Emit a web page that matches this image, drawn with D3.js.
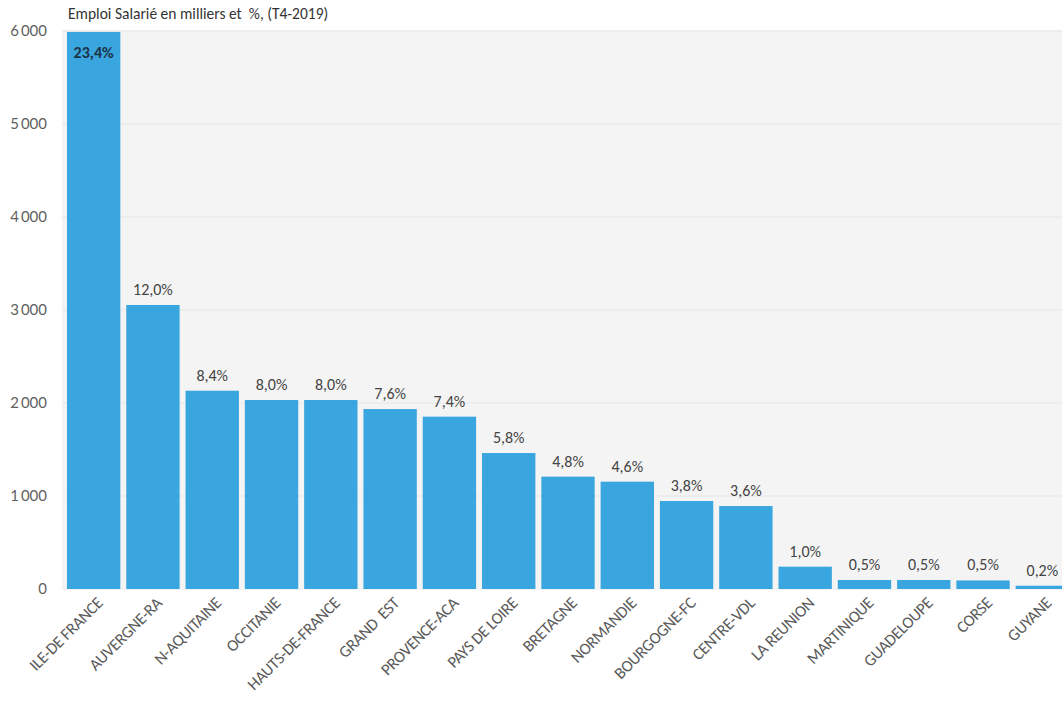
<!DOCTYPE html>
<html>
<head>
<meta charset="utf-8">
<script src="https://cdn.jsdelivr.net/npm/d3@7"></script>
<style>
  body { margin: 0; background: #fff; }
  svg text { font-family: Carlito, Lato, sans-serif; }
</style>
</head>
<body>
<script>
// regions, salaried employment (thousands) and share of total
const regions = ['ILE-DE FRANCE', 'AUVERGNE-RA', 'N-AQUITAINE', 'OCCITANIE', 'HAUTS-DE-FRANCE',
  'GRAND  EST', 'PROVENCE-ACA', 'PAYS DE LOIRE', 'BRETAGNE', 'NORMANDIE', 'BOURGOGNE-FC',
  'CENTRE-VDL', 'LA REUNION', 'MARTINIQUE', 'GUADELOUPE', 'CORSE', 'GUYANE'];
const emploi = [5990, 3054, 2132, 2032, 2032, 1935, 1853, 1462, 1208, 1154, 946, 892, 240, 97, 97, 92, 35];
const parts = ['23,4%', '12,0%', '8,4%', '8,0%', '8,0%', '7,6%', '7,4%', '5,8%', '4,8%', '4,6%',
  '3,8%', '3,6%', '1,0%', '0,5%', '0,5%', '0,5%', '0,2%'];
const yTicks = [0, 1000, 2000, 3000, 4000, 5000, 6000];
const title = 'Emploi Salarié en milliers et  %, (T4-2019)';

const width = 1062, height = 702;
const svg = d3.select('body').append('svg')
  .attr('width', width).attr('height', height);

const y = d3.scaleLinear().domain([0, 6000]).range([589, 31]);
const x = d3.scaleBand().domain(regions).range([64, 1072]).paddingInner(0.1).paddingOuter(0.05);

// plot background
svg.append('rect')
  .attr('x', 62).attr('y', 30).attr('width', width - 62).attr('height', 560)
  .attr('fill', '#f4f4f4');

// gridlines
svg.append('g').selectAll('line').data(yTicks.slice(1)).join('line')
  .attr('x1', 62).attr('x2', width)
  .attr('y1', d => y(d)).attr('y2', d => y(d))
  .attr('stroke', '#e6e6e6').attr('stroke-width', 1);

// y axis labels
const yAxis = d3.axisLeft(y).tickValues(yTicks).tickSize(0).tickPadding(0)
  .tickFormat(d => d3.format(',')(d).replace(',', '\u2009'));
svg.append('g').attr('transform', 'translate(47,0)').call(yAxis)
  .call(g => g.select('.domain').remove())
  .selectAll('text')
  .attr('fill', '#5f5f5f').style('font-size', '15px').style('font-family', 'Lato, sans-serif');

// bars
svg.append('g').selectAll('rect').data(regions).join('rect')
  .attr('x', d => x(d))
  .attr('y', (d, i) => y(emploi[i]))
  .attr('width', x.bandwidth())
  .attr('height', (d, i) => y(0) - y(emploi[i]))
  .attr('fill', '#3aa6df');

// percentage labels
svg.append('g').selectAll('text').data(regions).join('text')
  .attr('x', d => x(d) + x.bandwidth() / 2)
  .attr('y', (d, i) => i === 0 ? y(emploi[i]) + 26 : y(emploi[i]) - 10)
  .attr('text-anchor', 'middle')
  .attr('fill', (d, i) => i === 0 ? '#1c3347' : '#444')
  .style('font-size', '16px')
  .style('font-weight', (d, i) => i === 0 ? 'bold' : 'normal')
  .text((d, i) => parts[i]);

// x labels
svg.append('g').selectAll('text').data(regions).join('text')
  .attr('transform', d => `translate(${x(d) + x.bandwidth() / 2 + 6},${600}) rotate(-45)`)
  .attr('text-anchor', 'end')
  .attr('dy', '0.35em')
  .attr('fill', '#5a5a5a')
  .style('font-size', '16.5px')
  .style('letter-spacing', '-0.3px')
  .style('white-space', 'pre')
  .text(d => d);

// title
svg.append('text')
  .attr('x', 68).attr('y', 19)
  .attr('fill', '#333')
  .style('font-size', '15.5px')
  .style('white-space', 'pre')
  .text(title);
</script>
</body>
</html>
